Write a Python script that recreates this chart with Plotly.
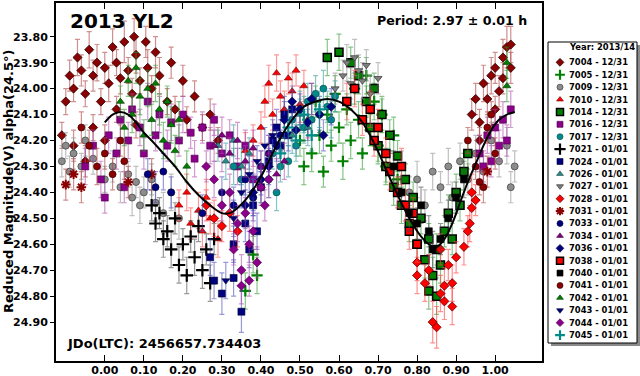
import plotly.graph_objects as go

W, H = 640, 376

# ---------------- data: (phase, reduced magnitude, error) ----------------
S7004 = [(-0.11, 24.18, 0.05), (-0.10, 24.05, 0.05), (-0.09, 23.95, 0.06), (-0.08, 24.00, 0.05),
         (-0.08, 24.22, 0.06), (-0.07, 23.88, 0.07), (-0.06, 23.93, 0.06), (-0.05, 24.02, 0.05),
         (-0.05, 24.28, 0.06), (-0.04, 23.85, 0.07), (-0.03, 23.95, 0.06), (-0.03, 24.15, 0.05),
         (-0.02, 23.90, 0.07), (-0.01, 24.05, 0.05), (0.00, 23.92, 0.06), (0.00, 24.20, 0.06),
         (0.01, 23.98, 0.07), (0.02, 23.84, 0.07), (0.03, 23.90, 0.05), (0.03, 24.08, 0.05),
         (0.04, 23.96, 0.06), (0.05, 23.82, 0.08), (0.06, 23.93, 0.05), (0.07, 24.02, 0.06),
         (0.075, 23.80, 0.07), (0.08, 23.87, 0.07), (0.08, 24.14, 0.05), (0.09, 23.97, 0.05),
         (0.105, 23.82, 0.06), (0.11, 23.92, 0.07), (0.12, 24.00, 0.05), (0.13, 23.86, 0.06),
         (0.14, 23.95, 0.07), (0.16, 24.05, 0.05), (0.17, 23.90, 0.06), (0.18, 24.08, 0.05),
         (0.20, 23.97, 0.06), (0.21, 24.12, 0.05), (0.23, 24.03, 0.06), (0.25, 24.15, 0.05),
         (0.27, 24.10, 0.06), (0.29, 24.20, 0.05),
         (0.94, 24.10, 0.06), (0.95, 24.04, 0.06), (0.96, 24.13, 0.05), (0.97, 23.98, 0.07),
         (0.98, 24.04, 0.06), (0.99, 23.95, 0.07), (1.00, 23.92, 0.06), (1.01, 24.01, 0.06),
         (1.02, 23.88, 0.07), (1.03, 23.84, 0.08), (1.04, 23.92, 0.06), (1.04, 23.83, 0.07),
         (1.02, 23.96, 0.06), (1.00, 24.08, 0.05), (0.96, 24.20, 0.05)]
S7005 = [(0.50, 24.20, 0.06), (0.51, 24.30, 0.07), (0.52, 24.12, 0.06), (0.53, 24.25, 0.07),
         (0.54, 24.05, 0.06), (0.55, 24.18, 0.07), (0.56, 24.32, 0.06), (0.57, 24.10, 0.07),
         (0.58, 24.22, 0.06), (0.59, 24.02, 0.07), (0.60, 24.15, 0.06), (0.61, 24.28, 0.07),
         (0.62, 24.08, 0.06), (0.63, 24.20, 0.07), (0.64, 24.00, 0.06), (0.65, 24.12, 0.07),
         (0.66, 24.25, 0.06), (0.67, 23.95, 0.07), (0.68, 24.16, 0.06), (0.69, 24.05, 0.07),
         (0.70, 24.22, 0.06), (0.71, 24.10, 0.07), (0.72, 24.30, 0.06), (0.74, 24.18, 0.07),
         (0.75, 24.35, 0.06), (0.38, 24.64, 0.07), (0.39, 24.72, 0.07), (0.36, 24.78, 0.07)]
S7009 = [(-0.11, 24.28, 0.06), (-0.10, 24.22, 0.05), (-0.09, 24.32, 0.06), (-0.08, 24.25, 0.06),
         (-0.06, 24.30, 0.05), (-0.05, 24.20, 0.06), (-0.03, 24.27, 0.06), (0.00, 24.35, 0.05),
         (0.02, 24.30, 0.06), (0.04, 24.38, 0.06), (0.06, 24.33, 0.05), (0.07, 24.42, 0.07),
         (0.08, 24.36, 0.06), (0.09, 24.45, 0.07), (0.10, 24.40, 0.06), (0.12, 24.35, 0.06),
         (0.13, 24.44, 0.07), (0.15, 24.48, 0.08), (0.17, 24.40, 0.07), (0.19, 24.50, 0.08),
         (0.76, 24.30, 0.06), (0.78, 24.40, 0.06), (0.80, 24.35, 0.07), (0.82, 24.45, 0.06),
         (0.84, 24.32, 0.07), (0.86, 24.38, 0.06), (0.88, 24.30, 0.07), (0.89, 24.42, 0.06),
         (0.91, 24.28, 0.07), (0.93, 24.35, 0.06), (0.95, 24.25, 0.07), (0.97, 24.32, 0.06),
         (0.99, 24.20, 0.07), (1.01, 24.28, 0.06), (1.03, 24.22, 0.07), (1.05, 24.30, 0.06),
         (1.04, 24.38, 0.06)]
S7010 = [(0.41, 24.05, 0.06), (0.42, 23.98, 0.07), (0.43, 24.10, 0.06), (0.44, 23.94, 0.07),
         (0.45, 24.03, 0.06), (0.46, 24.08, 0.07), (0.47, 23.96, 0.06), (0.48, 24.01, 0.07),
         (0.49, 23.93, 0.06), (0.50, 24.06, 0.07), (0.51, 23.99, 0.06), (0.52, 24.12, 0.07),
         (0.53, 24.04, 0.06), (0.40, 24.15, 0.06), (0.38, 24.20, 0.06), (0.36, 24.24, 0.07),
         (0.19, 24.45, 0.06), (0.21, 24.40, 0.07), (0.22, 24.52, 0.06), (0.24, 24.47, 0.07),
         (0.25, 24.55, 0.06), (0.26, 24.42, 0.07), (0.27, 24.50, 0.06), (0.29, 24.58, 0.07)]
S7014 = [(0.57, 23.88, 0.07), (0.60, 23.86, 0.07), (0.63, 23.90, 0.06), (0.65, 23.95, 0.07),
         (0.67, 24.05, 0.06), (0.68, 24.15, 0.07), (0.69, 24.00, 0.06), (0.70, 24.22, 0.07),
         (0.71, 24.10, 0.06), (0.72, 24.30, 0.07), (0.73, 24.18, 0.06), (0.74, 24.38, 0.07),
         (0.75, 24.26, 0.06), (0.76, 24.45, 0.07), (0.77, 24.35, 0.06), (0.78, 24.52, 0.07),
         (0.79, 24.42, 0.06), (0.80, 24.60, 0.07), (0.81, 24.50, 0.06), (0.82, 24.66, 0.07),
         (0.83, 24.58, 0.06), (0.83, 24.78, 0.07), (0.84, 24.72, 0.07), (0.85, 24.62, 0.06),
         (0.85, 24.80, 0.07), (0.86, 24.68, 0.07), (0.87, 24.55, 0.06), (0.88, 24.48, 0.07),
         (0.89, 24.58, 0.06), (0.90, 24.40, 0.07), (0.91, 24.45, 0.06), (0.92, 24.32, 0.07),
         (0.93, 24.25, 0.06)]
S7016 = [(-0.05, 24.30, 0.07), (-0.03, 24.22, 0.06), (-0.01, 24.35, 0.07), (0.00, 24.42, 0.06),
         (0.01, 24.18, 0.07), (0.03, 24.25, 0.06), (0.04, 24.12, 0.07), (0.05, 24.38, 0.06),
         (0.06, 24.20, 0.07), (0.07, 24.08, 0.06), (0.09, 24.15, 0.07), (0.10, 24.25, 0.06),
         (0.11, 24.05, 0.07), (0.13, 24.18, 0.06), (0.14, 24.10, 0.07), (0.16, 24.22, 0.06),
         (0.17, 24.13, 0.07), (0.19, 24.20, 0.06), (0.20, 24.10, 0.07), (0.22, 24.17, 0.06),
         (0.23, 24.27, 0.07), (0.25, 24.15, 0.06), (0.27, 24.22, 0.07), (0.28, 24.12, 0.06),
         (0.30, 24.25, 0.07), (0.32, 24.18, 0.06), (0.34, 24.30, 0.07), (0.36, 24.22, 0.06),
         (0.38, 24.35, 0.07),
         (0.96, 24.25, 0.07), (0.97, 24.30, 0.06), (0.98, 24.18, 0.07), (0.99, 24.28, 0.06),
         (1.00, 24.15, 0.07), (1.01, 24.22, 0.06), (1.02, 24.12, 0.07), (1.03, 24.20, 0.06),
         (1.04, 24.08, 0.07)]
S7017 = [(0.33, 24.30, 0.07), (0.35, 24.35, 0.06), (0.38, 24.42, 0.07), (0.40, 24.38, 0.06),
         (0.42, 24.35, 0.07), (0.43, 24.25, 0.06), (0.44, 24.40, 0.07), (0.45, 24.30, 0.06),
         (0.46, 24.18, 0.07), (0.47, 24.28, 0.06), (0.48, 24.12, 0.07), (0.49, 24.22, 0.06),
         (0.50, 24.08, 0.07), (0.51, 24.15, 0.06), (0.52, 24.05, 0.07), (0.53, 24.12, 0.06),
         (0.54, 24.02, 0.07), (0.55, 24.10, 0.06), (0.56, 24.00, 0.07), (0.57, 24.07, 0.06),
         (0.58, 24.12, 0.07), (0.59, 24.03, 0.06)]
S7021 = [(0.12, 24.45, 0.06), (0.13, 24.52, 0.07), (0.14, 24.48, 0.06), (0.15, 24.58, 0.07),
         (0.16, 24.55, 0.06), (0.17, 24.62, 0.07), (0.18, 24.50, 0.06), (0.19, 24.68, 0.07),
         (0.20, 24.60, 0.06), (0.21, 24.72, 0.07), (0.22, 24.57, 0.06), (0.23, 24.65, 0.07),
         (0.24, 24.53, 0.06), (0.25, 24.70, 0.07), (0.26, 24.62, 0.06), (0.27, 24.75, 0.07),
         (0.28, 24.58, 0.06)]
S7024 = [(0.27, 24.65, 0.07), (0.28, 24.74, 0.07), (0.30, 24.79, 0.08), (0.33, 24.73, 0.07),
         (0.35, 24.86, 0.08), (0.33, 24.60, 0.07), (0.36, 24.52, 0.07), (0.37, 24.62, 0.07),
         (0.38, 24.45, 0.06), (0.39, 24.55, 0.07), (0.40, 24.38, 0.06), (0.42, 24.28, 0.07),
         (0.43, 24.20, 0.06), (0.44, 24.15, 0.07), (0.45, 24.22, 0.06), (0.46, 24.10, 0.07),
         (0.47, 24.18, 0.06), (0.48, 24.08, 0.07)]
S7026 = [(0.29, 24.22, 0.06), (0.31, 24.28, 0.07), (0.33, 24.20, 0.06), (0.35, 24.30, 0.07),
         (0.37, 24.25, 0.06), (0.48, 24.18, 0.07), (0.50, 24.10, 0.06), (0.52, 24.15, 0.07)]
S7027 = [(0.59, 24.00, 0.06), (0.61, 23.95, 0.06), (0.62, 23.90, 0.07), (0.63, 23.98, 0.06),
         (0.64, 23.88, 0.07), (0.65, 23.93, 0.06), (0.66, 23.97, 0.07), (0.67, 23.91, 0.06),
         (0.68, 24.02, 0.07), (0.70, 23.96, 0.06)]
S7028 = [(0.26, 24.45, 0.06), (0.28, 24.50, 0.07), (0.30, 24.53, 0.06), (0.32, 24.48, 0.07),
         (0.34, 24.55, 0.06),
         (0.80, 24.67, 0.07), (0.80, 24.72, 0.07), (0.82, 24.75, 0.07), (0.83, 24.70, 0.06),
         (0.84, 24.90, 0.08), (0.85, 24.92, 0.08), (0.86, 24.79, 0.07), (0.86, 24.62, 0.06),
         (0.87, 24.82, 0.07), (0.87, 24.76, 0.07), (0.88, 24.68, 0.06), (0.89, 24.84, 0.07),
         (0.89, 24.75, 0.07), (0.90, 24.65, 0.06), (0.92, 24.61, 0.07), (0.93, 24.55, 0.06),
         (0.935, 24.52, 0.07), (0.94, 24.46, 0.06), (0.94, 24.40, 0.07), (0.95, 24.43, 0.06)]
S7031 = [(-0.10, 24.37, 0.06), (-0.08, 24.33, 0.06), (-0.06, 24.38, 0.06), (0.06, 24.36, 0.06),
         (0.12, 24.33, 0.06), (0.98, 24.32, 0.06)]
S7033 = [(0.11, 24.33, 0.06), (0.13, 24.38, 0.06), (0.15, 24.32, 0.07), (0.17, 24.40, 0.06),
         (0.25, 24.48, 0.07), (0.30, 24.40, 0.06), (0.33, 24.45, 0.07), (0.36, 24.35, 0.06),
         (0.38, 24.42, 0.07), (0.40, 24.30, 0.06), (0.42, 24.25, 0.07), (0.45, 24.18, 0.06)]
S7034 = [(0.28, 24.22, 0.06), (0.30, 24.18, 0.07), (0.32, 24.25, 0.06), (0.34, 24.20, 0.07),
         (0.36, 24.28, 0.06), (0.38, 24.23, 0.07), (0.40, 24.30, 0.06), (0.42, 24.25, 0.07),
         (0.44, 24.33, 0.06), (0.46, 24.28, 0.07)]
S7036 = [(0.36, 24.45, 0.06), (0.38, 24.40, 0.07), (0.40, 24.35, 0.06), (0.42, 24.30, 0.07),
         (0.44, 24.22, 0.06), (0.46, 24.12, 0.07), (0.48, 24.05, 0.06), (0.49, 24.16, 0.07),
         (0.50, 24.08, 0.06), (0.52, 24.13, 0.07), (0.53, 24.04, 0.06), (0.55, 24.10, 0.07),
         (0.56, 24.18, 0.06), (0.58, 24.07, 0.07)]
S7038 = [(0.62, 24.05, 0.07), (0.64, 24.00, 0.07), (0.66, 24.12, 0.06), (0.68, 24.08, 0.07),
         (0.69, 24.20, 0.06), (0.70, 24.15, 0.07), (0.72, 24.25, 0.06), (0.73, 24.32, 0.07),
         (0.75, 24.40, 0.06), (0.76, 24.30, 0.07), (0.77, 24.45, 0.06), (0.78, 24.55, 0.07),
         (0.79, 24.48, 0.06), (0.80, 24.60, 0.07)]
S7040 = [(0.74, 24.30, 0.06), (0.76, 24.40, 0.06), (0.78, 24.48, 0.07), (0.80, 24.52, 0.06),
         (0.81, 24.45, 0.07), (0.83, 24.55, 0.06), (0.84, 24.62, 0.07), (0.86, 24.58, 0.06),
         (0.88, 24.50, 0.07), (0.90, 24.42, 0.06), (0.92, 24.35, 0.07)]
S7041 = [(-0.06, 24.15, 0.06), (-0.04, 24.22, 0.06), (-0.02, 24.30, 0.07), (0.00, 24.25, 0.06),
         (0.02, 24.33, 0.06), (0.04, 24.20, 0.06), (0.05, 24.28, 0.07), (0.93, 24.20, 0.05),
         (0.95, 24.30, 0.05), (0.96, 24.36, 0.05), (0.97, 24.38, 0.06), (0.98, 24.15, 0.06),
         (0.99, 24.10, 0.05), (1.00, 24.25, 0.06)]
S7042 = [(0.04, 24.05, 0.06), (0.05, 24.15, 0.07), (0.06, 23.97, 0.06), (0.07, 24.10, 0.07),
         (0.08, 23.92, 0.06), (0.09, 24.03, 0.07), (0.10, 24.18, 0.06), (0.11, 24.00, 0.07),
         (0.12, 24.12, 0.06), (0.13, 23.98, 0.07), (0.14, 24.08, 0.06), (0.15, 24.20, 0.07),
         (0.16, 24.05, 0.06), (0.17, 24.14, 0.07), (0.18, 24.24, 0.06), (0.19, 24.12, 0.07),
         (0.21, 24.30, 0.06), (1.03, 23.90, 0.06), (1.03, 23.99, 0.06)]
S7043 = [(0.31, 24.74, 0.07), (0.33, 24.50, 0.07), (0.35, 24.40, 0.06), (0.37, 24.33, 0.07),
         (0.39, 24.28, 0.06), (0.41, 24.22, 0.07), (0.43, 24.18, 0.06)]
S7044 = [(0.26, 24.30, 0.06), (0.28, 24.35, 0.07), (0.30, 24.45, 0.06), (0.32, 24.40, 0.07),
         (0.33, 24.62, 0.06), (0.34, 24.52, 0.07), (0.35, 24.70, 0.06), (0.35, 24.76, 0.07),
         (0.36, 24.48, 0.06), (0.37, 24.60, 0.07), (0.37, 24.74, 0.06), (0.38, 24.55, 0.07),
         (0.39, 24.67, 0.06), (0.40, 24.38, 0.07), (0.41, 24.45, 0.06), (0.42, 24.35, 0.07)]
S7045 = [(0.45, 24.25, 0.06), (0.47, 24.15, 0.07), (0.49, 24.20, 0.06), (0.51, 24.10, 0.07),
         (0.53, 24.18, 0.06), (0.55, 24.08, 0.07)]

FIT_PHASE = [0.00, 0.02, 0.04, 0.06, 0.08, 0.10, 0.12, 0.15, 0.18, 0.21, 0.24, 0.27, 0.30,
             0.32, 0.34, 0.36, 0.38, 0.40, 0.42, 0.45, 0.48, 0.51, 0.54, 0.57, 0.60, 0.63,
             0.66, 0.69, 0.72, 0.75, 0.78, 0.81, 0.83, 0.85, 0.87, 0.89, 0.91, 0.93, 0.95,
             0.97, 0.99, 1.01, 1.03, 1.05]
FIT_MAG = [24.13, 24.10, 24.09, 24.10, 24.13, 24.17, 24.20, 24.25, 24.30, 24.36, 24.41, 24.45,
           24.48, 24.48, 24.46, 24.43, 24.39, 24.34, 24.28, 24.19, 24.12, 24.07, 24.05, 24.04,
           24.05, 24.08, 24.13, 24.21, 24.31, 24.41, 24.50, 24.57, 24.60, 24.61, 24.58, 24.52,
           24.44, 24.36, 24.29, 24.22, 24.16, 24.12, 24.10, 24.09]

LABELS = ["7004 - 12/31", "7005 - 12/31", "7009 - 12/31", "7010 - 12/31", "7014 - 12/31",
          "7016 - 12/31", "7017 - 12/31", "7021 - 01/01", "7024 - 01/01", "7026 - 01/01",
          "7027 - 01/01", "7028 - 01/01", "7031 - 01/01", "7033 - 01/01", "7034 - 01/01",
          "7036 - 01/01", "7038 - 01/01", "7040 - 01/01", "7041 - 01/01", "7042 - 01/01",
          "7043 - 01/01", "7044 - 01/01", "7045 - 01/01"]
DATA = [S7004, S7005, S7009, S7010, S7014, S7016, S7017, S7021, S7024, S7026, S7027, S7028,
        S7031, S7033, S7034, S7036, S7038, S7040, S7041, S7042, S7043, S7044, S7045]

X_TICKS = [0.0, 0.1, 0.2, 0.3, 0.4, 0.5, 0.6, 0.7, 0.8, 0.9, 1.0]
Y_TICKS = [23.8, 23.9, 24.0, 24.1, 24.2, 24.3, 24.4, 24.5, 24.6, 24.7, 24.8, 24.9]

# ---------------- styles ----------------
def st(sym, fill, edge, lw, err, size):
    return dict(sym=sym, fill=fill, edge=edge, lw=lw, err=err, size=size)

STYLES = [
    st("diamond", "#8B0000", "#2a0000", 0.8, "rgba(175,70,70,0.6)", 7),
    st("cross-thin-open", "#008000", "#008000", 2.2, "rgba(40,150,40,0.55)", 8),
    st("circle", "#8c8c8c", "#4a4a4a", 0.8, "rgba(150,150,150,0.6)", 7),
    st("triangle-up", "#FF0000", "#700000", 0.6, "rgba(255,70,70,0.55)", 7),
    st("square", "#008000", "#000000", 1.5, "rgba(40,150,40,0.55)", 8),
    st("square", "#8B008B", "#4b004b", 0.6, "rgba(170,70,170,0.55)", 7),
    st("circle", "#008B8B", "#004545", 0.6, "rgba(40,150,150,0.55)", 7),
    st("cross-thin-open", "#000000", "#000000", 2.2, "rgba(70,70,70,0.55)", 9),
    st("square", "#000080", "#000030", 0.6, "rgba(70,70,180,0.55)", 7),
    st("triangle-up", "#2E8B8B", "#104040", 0.6, "rgba(40,150,150,0.55)", 7),
    st("triangle-down", "#808080", "#404040", 0.8, "rgba(150,150,150,0.6)", 7),
    st("diamond", "#FF0000", "#600000", 0.8, "rgba(255,70,70,0.6)", 7),
    st("asterisk-open", "#8B0000", "#8B0000", 2.0, "rgba(175,70,70,0.6)", 8),
    st("circle", "#000080", "#000030", 0.6, "rgba(70,70,180,0.55)", 7),
    st("triangle-up", "#800080", "#400040", 0.6, "rgba(170,70,170,0.55)", 7),
    st("diamond", "#000080", "#000030", 0.6, "rgba(70,70,180,0.55)", 7),
    st("square", "#FF0000", "#000000", 1.5, "rgba(255,70,70,0.55)", 8),
    st("square", "#000000", "#000000", 0.6, "rgba(70,70,70,0.55)", 7),
    st("circle", "#8B0000", "#2a0000", 0.6, "rgba(175,70,70,0.6)", 7),
    st("triangle-up", "#008000", "#003000", 0.6, "rgba(40,150,40,0.55)", 7),
    st("triangle-down", "#000080", "#000030", 0.6, "rgba(70,70,180,0.55)", 7),
    st("diamond", "#8B008B", "#400040", 0.6, "rgba(170,70,170,0.55)", 7),
    st("cross-thin-open", "#008B8B", "#008B8B", 2.2, "rgba(40,150,150,0.55)", 8),
]

FONT = "DejaVu Sans"
fig = go.Figure()

# observation series
for pts, s in zip(DATA, STYLES):
    fig.add_trace(go.Scatter(
        x=[p[0] for p in pts], y=[p[1] for p in pts], mode="markers",
        marker=dict(symbol=s["sym"], size=s["size"], color=s["fill"],
                    line=dict(color=s["edge"], width=s["lw"])),
        error_y=dict(type="data", array=[p[2] for p in pts], color=s["err"],
                     thickness=1.2, width=2.5),
        showlegend=False, hoverinfo="skip", xaxis="x", yaxis="y"))

# fitted curve
fig.add_trace(go.Scatter(x=FIT_PHASE, y=FIT_MAG, mode="lines",
                         line=dict(color="black", width=2, shape="spline"),
                         showlegend=False, hoverinfo="skip", xaxis="x", yaxis="y"))

# custom legend (markers on an auxiliary axis, rows by index)
for i, s in enumerate(STYLES):
    fig.add_trace(go.Scatter(
        x=[560], y=[i], mode="markers",
        marker=dict(symbol=s["sym"], size=s["size"] - 1, color=s["fill"],
                    line=dict(color=s["edge"], width=s["lw"])),
        showlegend=False, hoverinfo="skip", xaxis="x3", yaxis="y3"))

annotations = []
for i, lab in enumerate(LABELS):
    annotations.append(dict(x=567, y=i, xref="x3", yref="y3", text="<b>%s</b>" % lab,
                            showarrow=False, xanchor="left", yanchor="middle",
                            font=dict(family=FONT, size=8.4, color="black")))
annotations.append(dict(x=567, y=-1.23, xref="x3", yref="y3", text="<b>Year: 2013/14</b>",
                        showarrow=False, xanchor="left", yanchor="middle",
                        font=dict(family=FONT, size=8.4, color="black")))

def px(x):
    return x / W

def py(y):
    return (H - y) / H

annotations += [
    dict(x=px(68), y=py(21), xref="paper", yref="paper", text="<b>2013 YL2</b>",
         showarrow=False, xanchor="left", yanchor="middle",
         font=dict(family=FONT, size=20, color="black")),
    dict(x=px(375), y=py(20), xref="paper", yref="paper", text="<b>Period: 2.97 ± 0.01 h</b>",
         showarrow=False, xanchor="left", yanchor="middle",
         font=dict(family=FONT, size=12.6, color="black")),
    dict(x=px(65), y=py(343), xref="paper", yref="paper", text="<b>JDo(LTC): 2456657.734403</b>",
         showarrow=False, xanchor="left", yanchor="middle",
         font=dict(family=FONT, size=13, color="black")),
    dict(x=px(8), y=py(181), xref="paper", yref="paper",
         text="<b>Reduced Magnitude(V) alpha(24.5°)</b>", textangle=-90,
         showarrow=False, xanchor="center", yanchor="middle",
         font=dict(family=FONT, size=13, color="black")),
]

shapes = [
    dict(type="rect", xref="paper", yref="paper", x0=px(551), x1=px(640), y0=py(346), y1=py(45),
         fillcolor="#8a8a8a", line=dict(width=0), layer="below"),
    dict(type="rect", xref="paper", yref="paper", x0=px(548), x1=px(637), y0=py(343), y1=py(42),
         fillcolor="white", line=dict(color="black", width=1), layer="below"),
]

tickfont = dict(family=FONT, size=11, color="black", weight="bold")
yrange = [25.05, 23.67]

fig.update_layout(
    template="none",
    width=W, height=H, margin=dict(l=0, r=0, t=0, b=0, pad=0),
    paper_bgcolor="white", plot_bgcolor="rgba(0,0,0,0)",
    xaxis=dict(domain=[px(56), px(542)], range=[-0.125, 1.12], tickvals=X_TICKS,
               tickformat=".2f", ticks="inside", ticklen=6, tickwidth=1.2, tickcolor="black",
               showline=True, linecolor="black", linewidth=2, mirror="ticks",
               showgrid=False, zeroline=False, tickfont=tickfont, anchor="y",
               automargin=False, ticklabelstandoff=-2),
    yaxis=dict(domain=[py(361), py(3)], range=yrange, tickvals=Y_TICKS, tickformat=".2f",
               ticks="outside", ticklen=4, tickwidth=1.2, tickcolor="black",
               showline=True, linecolor="black", linewidth=2, mirror=True,
               showgrid=False, zeroline=False, tickfont=tickfont, anchor="x",
               automargin=False),
    yaxis2=dict(overlaying="y", side="right", anchor="x", range=yrange, tickvals=Y_TICKS,
                ticks="inside", ticklen=4, tickwidth=1.2, tickcolor="black",
                showticklabels=False, showline=False, showgrid=False, zeroline=False,
                automargin=False),
    xaxis3=dict(domain=[px(548), px(637)], range=[548, 637], visible=False, anchor="y3",
                fixedrange=True, automargin=False),
    yaxis3=dict(domain=[py(343), py(42)], range=[22.64, -1.64], visible=False, anchor="x3",
                fixedrange=True, automargin=False),
    annotations=annotations, shapes=shapes,
)

fig.write_html("out.html", config={"displayModeBar": False},
               post_script="document.body.style.margin='0px';"
                           "document.body.style.overflow='hidden';")
